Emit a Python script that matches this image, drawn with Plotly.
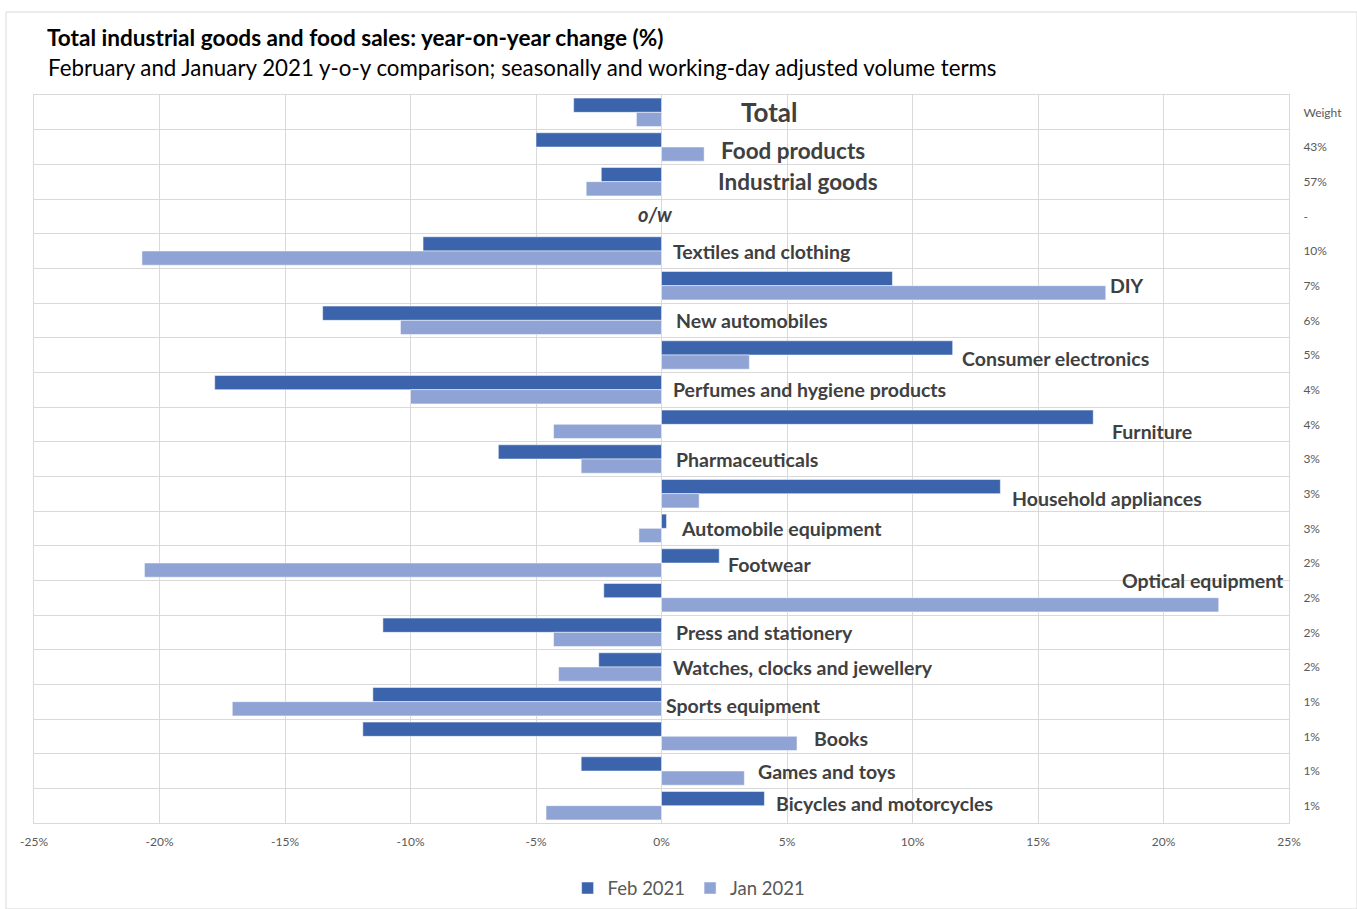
import plotly.graph_objects as go

categories = ["Total", "Food products", "Industrial goods", "o/w", "Textiles and clothing", "DIY",
              "New automobiles", "Consumer electronics", "Perfumes and hygiene products", "Furniture",
              "Pharmaceuticals", "Household appliances", "Automobile equipment", "Footwear",
              "Optical equipment", "Press and stationery", "Watches, clocks and jewellery",
              "Sports equipment", "Books", "Games and toys", "Bicycles and motorcycles"]
weights = ["Weight", "43%", "57%", "-", "10%", "7%", "6%", "5%", "4%", "4%", "3%", "3%", "3%",
           "2%", "2%", "2%", "2%", "1%", "1%", "1%", "1%"]
feb_2021 = [-3.5, -5.0, -2.4, None, -9.5, 9.2, -13.5, 11.6, -17.8, 17.2, -6.5, 13.5, 0.2, 2.3,
            -2.3, -11.1, -2.5, -11.5, -11.9, -3.2, 4.1]
jan_2021 = [-1.0, 1.7, -3.0, None, -20.7, 17.7, -10.4, 3.5, -10.0, -4.3, -3.2, 1.5, -0.9, -20.6,
            22.2, -4.3, -4.1, -17.1, 5.4, 3.3, -4.6]
x_ticks = [-25, -20, -15, -10, -5, 0, 5, 10, 15, 20, 25]
x_tick_labels = ["-25%", "-20%", "-15%", "-10%", "-5%", "0%", "5%", "10%", "15%", "20%", "25%"]

# label placement (style): left anchor in axis units, vertical shift in px, font size
label_x = [3.2, 2.4, 2.3, -0.9, 0.5, 17.9, 0.6, 12.0, 0.5, 18.0, 0.6, 14.0, 0.8, 2.7, 18.4,
           0.6, 0.5, 0.2, 6.1, 3.9, 4.6]
label_dy = [0, -3, 0, 2, 0, 0, 0, -3, 0, -7, 0, -5, 0, -1, 17, 0, 0, -4, -2, 0, 2]
label_size = [26, 22.5, 22.5, 20] + [19.5] * 17

FEB = "#3B64AD"
JAN = "#8FA3D5"
TXT = "#404040"
GRID = "#D9D9D9"
FONT = "Lato"

idx = list(range(len(categories)))

fig = go.Figure()
fig.add_trace(go.Bar(y=idx, x=feb_2021, orientation="h", name="Feb 2021",
                     marker=dict(color=FEB, line=dict(color="white", width=0.5))))
fig.add_trace(go.Bar(y=idx, x=jan_2021, orientation="h", name="Jan 2021",
                     marker=dict(color=JAN, line=dict(color="white", width=0.5))))

annotations = []
for i, c in enumerate(categories):
    txt = "<b><i>%s</i></b>" % c if c == "o/w" else "<b>%s</b>" % c
    annotations.append(dict(x=label_x[i], y=i, xref="x", yref="y", text=txt, showarrow=False,
                            xanchor="left", yanchor="middle", yshift=label_dy[i], xshift=-3,
                            font=dict(family=FONT, size=label_size[i], color=TXT)))

annotations.append(dict(x=(48 - 34) / 1255, y=1 + (95 - 68) / 728, xref="paper", yref="paper",
                        text="February and January 2021 y-o-y comparison; seasonally and working-day adjusted volume terms",
                        showarrow=False, xanchor="left", yanchor="middle", xshift=-2,
                        font=dict(family=FONT, size=22.3, color="#000000")))

fig.update_layout(
    width=1357, height=909,
    paper_bgcolor="white", plot_bgcolor="white",
    margin=dict(l=34, r=68, t=95, b=86, autoexpand=False),
    barmode="group", bargap=0.18, bargroupgap=0,
    title=dict(text="<b>Total industrial goods and food sales: year-on-year change (%)</b>",
               x=47 / 1357, xanchor="left", y=1 - 38 / 909, yanchor="middle", yref="container",
               xref="container",
               font=dict(family=FONT, size=22.6, color="#000000")),
    xaxis=dict(range=[-25, 25], tickvals=x_ticks, ticktext=x_tick_labels, showgrid=True,
               gridcolor=GRID, gridwidth=1, zeroline=False, showline=True, linecolor=GRID,
               mirror=True, tickfont=dict(family=FONT, size=12, color="#595959"), ticks="",
               ticklabelstandoff=8),
    yaxis=dict(range=[20.5, -0.5], tickvals=idx, ticktext=weights, side="right", showgrid=False,
               zeroline=False, showline=True, linecolor=GRID, mirror=True, ticks="",
               tickfont=dict(family=FONT, size=12, color="#595959"), ticklabelstandoff=11,
               minor=dict(tick0=0.5, dtick=1, showgrid=True, gridcolor=GRID, gridwidth=1, ticks="")),
    legend=dict(orientation="h", x=0.522, xanchor="center", y=-0.09, yanchor="middle",
                font=dict(family=FONT, size=18.5, color="#595959"), traceorder="normal",
                itemwidth=30),
    annotations=annotations,
    shapes=[dict(type="rect", xref="paper", yref="paper",
                 x0=-28 / 1255, x1=1 + 68 / 1255, y0=-86 / 728, y1=1 + 83 / 728,
                 line=dict(color=GRID, width=1), fillcolor="rgba(0,0,0,0)", layer="below")],
)

fig.write_html("out.html")
